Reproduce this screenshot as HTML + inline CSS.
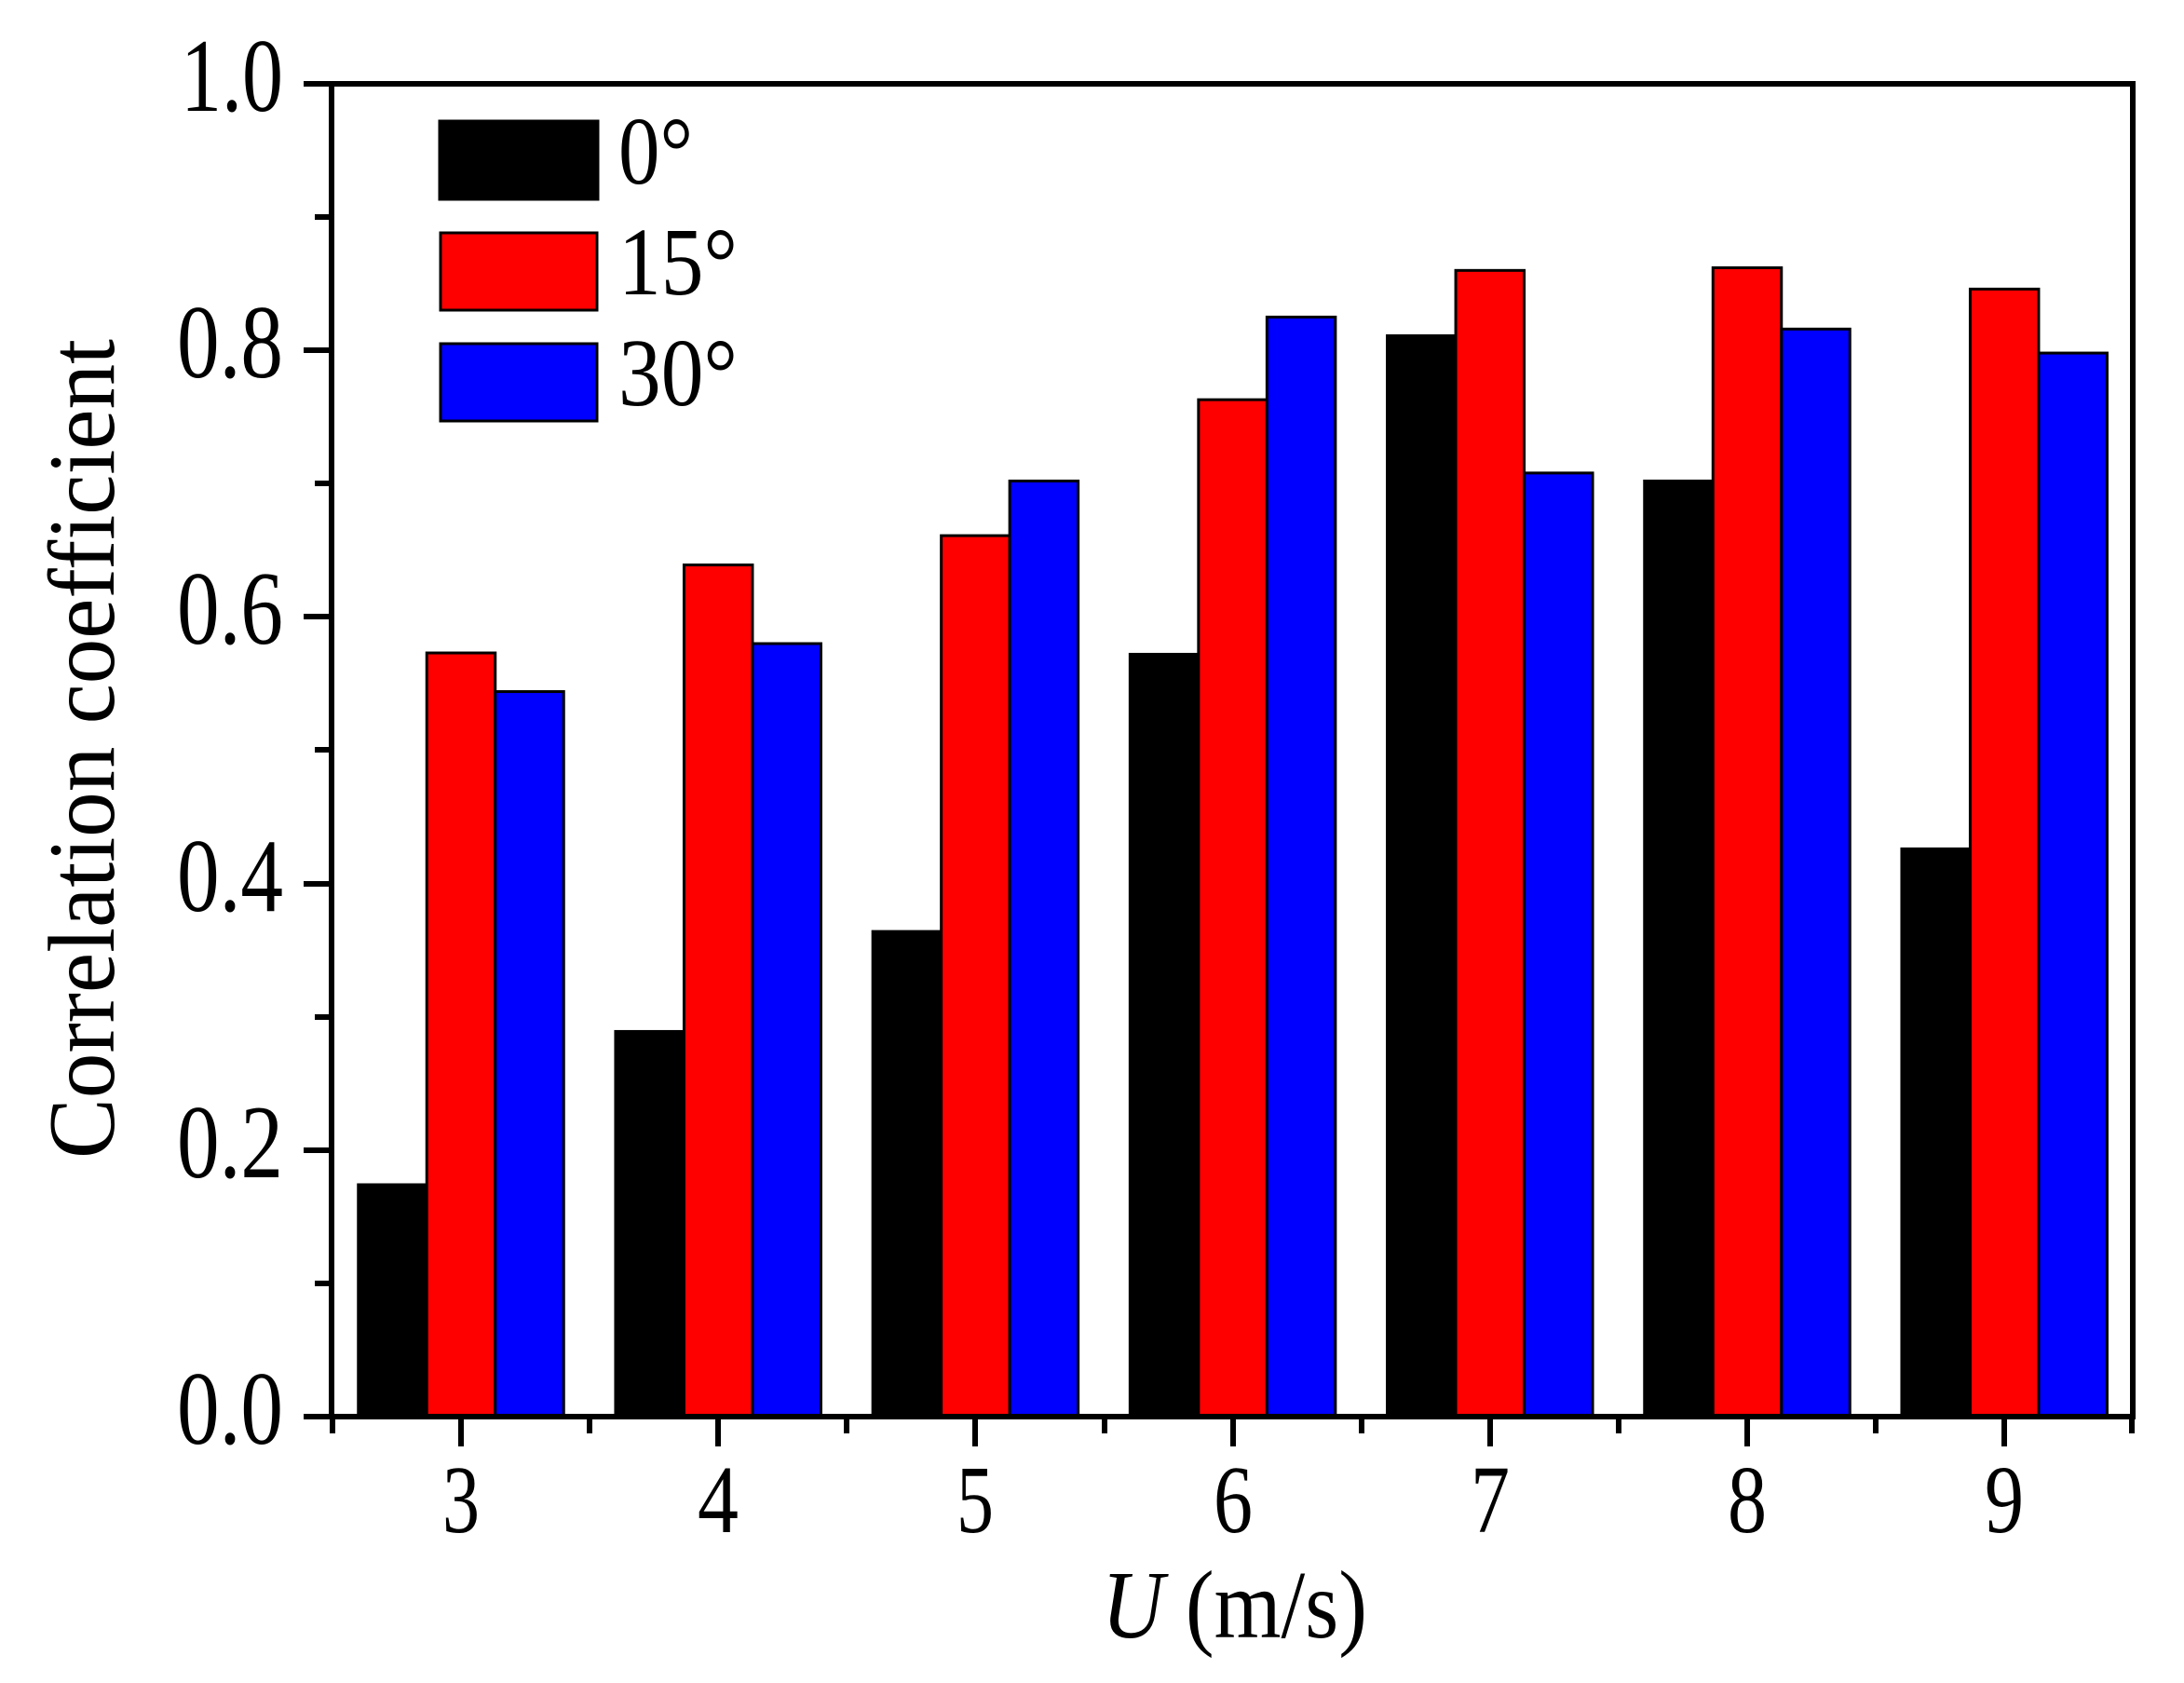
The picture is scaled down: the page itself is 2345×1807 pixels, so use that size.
<!DOCTYPE html>
<html><head><meta charset="utf-8"><style>
html,body{margin:0;padding:0;background:#fff;}
svg{display:block;}
text{font-family:"Liberation Serif","Times New Roman",serif;fill:#000;}
</style></head><body>
<svg width="2345" height="1807" viewBox="0 0 2345 1807" xmlns="http://www.w3.org/2000/svg">
<rect width="2345" height="1807" fill="#fff"/>
<g id="bars" stroke="#000" stroke-width="3">
</g>
<script>
(function(){
var d=[[0.174,0.573,0.544],[0.289,0.639,0.58],[0.364,0.661,0.702],[0.572,0.763,0.825],[0.811,0.86,0.708],[0.702,0.862,0.816],[0.426,0.846,0.798]];
var c=['#000','#ff0000','#0000ff'];
var g=document.getElementById('bars');var ns='http://www.w3.org/2000/svg';
var y0=1521,h=1431,bw=73.5;
for(var i=0;i<7;i++){var cx=495+i*276.2;
for(var j=0;j<3;j++){var v=d[i][j];var r=document.createElementNS(ns,'rect');
r.setAttribute('x',cx-bw*1.5+j*bw);r.setAttribute('y',y0-v*h);r.setAttribute('width',bw);r.setAttribute('height',v*h);r.setAttribute('fill',c[j]);g.appendChild(r);}}
})();
</script>
<g stroke="#000" stroke-width="6" fill="none">
<rect x="356" y="90" width="1934" height="1431"/>
<line x1="326" y1="90" x2="356" y2="90"/>
<line x1="326" y1="376" x2="356" y2="376"/>
<line x1="326" y1="662" x2="356" y2="662"/>
<line x1="326" y1="949" x2="356" y2="949"/>
<line x1="326" y1="1235" x2="356" y2="1235"/>
<line x1="326" y1="1521" x2="356" y2="1521"/>
<line x1="338" y1="233" x2="356" y2="233"/>
<line x1="338" y1="519" x2="356" y2="519"/>
<line x1="338" y1="805" x2="356" y2="805"/>
<line x1="338" y1="1092" x2="356" y2="1092"/>
<line x1="338" y1="1378" x2="356" y2="1378"/>
<line x1="495" y1="1521" x2="495" y2="1553"/>
<line x1="771" y1="1521" x2="771" y2="1553"/>
<line x1="1047" y1="1521" x2="1047" y2="1553"/>
<line x1="1324" y1="1521" x2="1324" y2="1553"/>
<line x1="1600" y1="1521" x2="1600" y2="1553"/>
<line x1="1876" y1="1521" x2="1876" y2="1553"/>
<line x1="2152" y1="1521" x2="2152" y2="1553"/>
<line x1="357" y1="1521" x2="357" y2="1539"/>
<line x1="633" y1="1521" x2="633" y2="1539"/>
<line x1="909" y1="1521" x2="909" y2="1539"/>
<line x1="1186" y1="1521" x2="1186" y2="1539"/>
<line x1="1462" y1="1521" x2="1462" y2="1539"/>
<line x1="1738" y1="1521" x2="1738" y2="1539"/>
<line x1="2014" y1="1521" x2="2014" y2="1539"/>
<line x1="2289" y1="1521" x2="2289" y2="1539"/>
</g>
<g font-size="112" text-anchor="end">
<text x="304" y="119" textLength="110" lengthAdjust="spacingAndGlyphs">1.0</text>
<text x="304" y="405" textLength="114" lengthAdjust="spacingAndGlyphs">0.8</text>
<text x="304" y="691" textLength="114" lengthAdjust="spacingAndGlyphs">0.6</text>
<text x="304" y="978" textLength="114" lengthAdjust="spacingAndGlyphs">0.4</text>
<text x="304" y="1264" textLength="114" lengthAdjust="spacingAndGlyphs">0.2</text>
<text x="304" y="1550" textLength="114" lengthAdjust="spacingAndGlyphs">0.0</text>
</g>
<g font-size="104" text-anchor="middle">
<text x="495" y="1645" textLength="40" lengthAdjust="spacingAndGlyphs">3</text>
<text x="771" y="1645" textLength="44" lengthAdjust="spacingAndGlyphs">4</text>
<text x="1047" y="1645" textLength="40" lengthAdjust="spacingAndGlyphs">5</text>
<text x="1324" y="1645" textLength="42" lengthAdjust="spacingAndGlyphs">6</text>
<text x="1600" y="1645" textLength="42" lengthAdjust="spacingAndGlyphs">7</text>
<text x="1876" y="1645" textLength="42" lengthAdjust="spacingAndGlyphs">8</text>
<text x="2152" y="1645" textLength="42" lengthAdjust="spacingAndGlyphs">9</text>
</g>
<text x="1183" y="1758" font-size="104" textLength="285" lengthAdjust="spacingAndGlyphs"><tspan font-style="italic">U</tspan> (m/s)</text>
<text transform="translate(122,804) rotate(-90)" font-size="102" text-anchor="middle" textLength="880" lengthAdjust="spacingAndGlyphs">Correlation coefficient</text>
<g stroke="#000" stroke-width="3">
<rect x="472" y="130" width="170" height="84" fill="#000"/>
<rect x="473" y="250" width="168" height="83" fill="#ff0000"/>
<rect x="473" y="369" width="168" height="83" fill="#0000ff"/>
</g>
<g font-size="104">
<text x="664" y="197" textLength="80" lengthAdjust="spacingAndGlyphs">0°</text>
<text x="664" y="316" textLength="128" lengthAdjust="spacingAndGlyphs">15°</text>
<text x="664" y="435" textLength="128" lengthAdjust="spacingAndGlyphs">30°</text>
</g>
</svg>
</body></html>
